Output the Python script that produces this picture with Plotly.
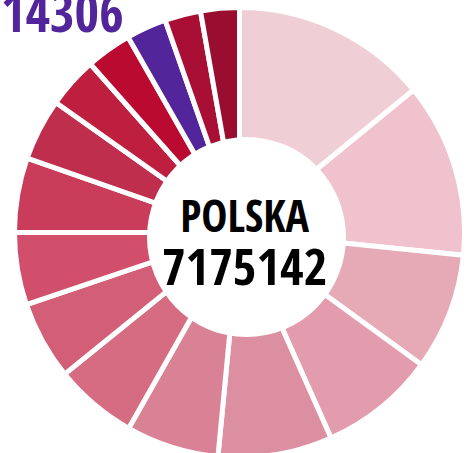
import plotly.graph_objects as go

# ---- data ----
categories = [f"Województwo {i}" for i in range(1, 17)]
values = [1010500, 898900, 601900, 597900, 588000, 478300, 428500, 404600,
          372700, 384700, 318900, 263100, 235200, 207300, 185400, 199300]
colors = ["#F0CED6", "#F0C2CD", "#E6A9B6", "#E29CAD", "#DC8FA1", "#DA8295",
          "#D56C82", "#D35E77", "#D24F6C", "#C93C5A", "#BF2F4D", "#BF1F3F",
          "#BA0A30", "#53259A", "#A90F34", "#990E30"]
center_title = "POLSKA"
center_value = "7175142"
corner_label = "14306"

# ---- layout geometry (pixels) ----
W, H = 466, 458
cx, cy, R = 239.5, 232.5, 225.0           # pie centre (from top) and radius
hole = dict(left=147, right=346, top=137, bottom=337)

FONT = "Open Sans Condensed, Roboto Condensed, sans-serif"

def px_x(x):
    return x / W

def px_y(y):
    return (H - y) / H

fig = go.Figure(go.Pie(
    labels=categories,
    values=values,
    sort=False,
    direction="clockwise",
    rotation=0,
    marker=dict(colors=colors, line=dict(color="white", width=5)),
    textinfo="none",
    hoverinfo="label+value",
    showlegend=False,
    domain=dict(x=[px_x(cx - R), px_x(cx + R)], y=[px_y(cy + R), px_y(cy - R)]),
))

fig.add_shape(type="circle", xref="paper", yref="paper",
              x0=px_x(hole["left"]), x1=px_x(hole["right"]),
              y0=px_y(hole["bottom"]), y1=px_y(hole["top"]),
              fillcolor="white", line=dict(width=0), layer="above")

center_text = (f"<span style='font-size:44px'>{center_title}</span><br>"
               f"<span style='font-size:51px'>{center_value}</span>")
fig.add_annotation(text=center_text, xref="paper", yref="paper",
                   x=px_x(245), y=px_y(242.5), xanchor="center", yanchor="middle",
                   align="center", showarrow=False,
                   font=dict(family=FONT, size=41, color="#000000", weight="bold"))
fig.add_annotation(text=corner_label, xref="paper", yref="paper",
                   x=px_x(-1), y=px_y(11), xanchor="left", yanchor="middle",
                   showarrow=False,
                   font=dict(family=FONT, size=53, color="#53259A", weight="bold"))

fig.update_layout(width=W, height=H, margin=dict(l=0, r=0, t=0, b=0),
                  paper_bgcolor="white", plot_bgcolor="white")

fig.write_html("out.html")
